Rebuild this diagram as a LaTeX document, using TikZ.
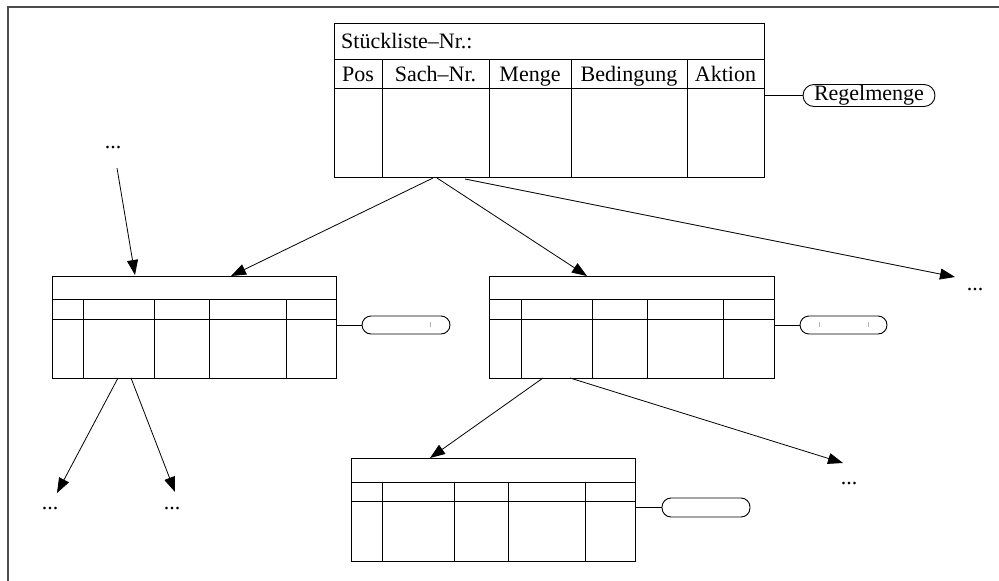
\documentclass[tikz,border=0pt]{standalone}
\usepackage{fontspec}
\setmainfont{Liberation Serif}
\usetikzlibrary{arrows.meta}
\tikzset{
  tbl/.style={draw, line width=0.9pt, inner sep=0pt, anchor=north west},
  grid/.style={line width=0.9pt},
  pill/.style={draw, line width=0.9pt, inner sep=0pt, rounded corners=9pt},
  conn/.style={line width=0.9pt},
  arr/.style={line width=0.8pt, -{Triangle[length=15pt,width=11pt]}},
  lbl/.style={font=\fontsize{22}{26}\selectfont, inner sep=0pt},
  dots/.style={font=\fontsize{22}{26}\selectfont, inner sep=0pt, anchor=base},
  tick/.style={draw=black!30, line width=0.6pt}
}
\begin{document}
\begin{tikzpicture}[x=1pt,y=-1pt]
\useasboundingbox (0,0) rectangle (999,581);
% outer frame (top and left only)
\draw[line width=2pt, black!70] (999,7) -- (8,7) -- (8,581);

% ---------- top table ----------
\node[tbl, minimum width=430pt, minimum height=154pt] (T) at (334,23) {};
\draw[grid] (334,59) -- (764,59);
\draw[grid] (334,88) -- (764,88);
\foreach \x in {382,489,571,687} \draw[grid] (\x,59) -- (\x,177);
\node[lbl, anchor=base west] (Ttitle) at (341,48) {Stückliste–Nr.:};
\node[lbl, anchor=base] (h1) at (358,81) {Pos};
\node[lbl, anchor=base] (h2) at (435.5,81) {Sach–Nr.};
\node[lbl, anchor=base] (h3) at (530,81) {Menge};
\node[lbl, anchor=base] (h4) at (629,81) {Bedingung};
\node[lbl, anchor=base] (h5) at (725.5,81) {Aktion};
\node[pill, minimum width=132pt, minimum height=22pt, rounded corners=11pt, font=\fontsize{22}{26}\selectfont] (PT) at (869,95.5) {Regelmenge};
\draw[conn] (764,95.5) -- (PT.west);

% ---------- left middle table ----------
\node[tbl, minimum width=284pt, minimum height=102pt] (L) at (52,276) {};
\draw[grid] (52,299) -- (336,299);
\draw[grid] (52,319) -- (336,319);
\foreach \x in {83,154,209,286} \draw[grid] (\x,299) -- (\x,378);
\node[pill, minimum width=88pt, minimum height=18pt] (PL) at (406,325) {};
\draw[conn] (336,325) -- (PL.west);
\draw[tick] (430,322) -- (430,327);

% ---------- right middle table ----------
\node[tbl, minimum width=285pt, minimum height=102pt] (R) at (489,276) {};
\draw[grid] (489,299) -- (774,299);
\draw[grid] (489,319) -- (774,319);
\foreach \x in {521,592,647,723} \draw[grid] (\x,299) -- (\x,378);
\node[pill, minimum width=87pt, minimum height=18pt] (PR) at (843.5,325) {};
\draw[conn] (774,325) -- (PR.west);
\draw[tick] (819,322) -- (819,327);
\draw[tick] (868,322) -- (868,327);

% ---------- bottom table ----------
\node[tbl, minimum width=284pt, minimum height=103pt] (B) at (351,458) {};
\draw[grid] (351,482) -- (635,482);
\draw[grid] (351,501) -- (635,501);
\foreach \x in {382,454,508,585} \draw[grid] (\x,482) -- (\x,561);
\node[pill, minimum width=88pt, minimum height=19pt] (PB) at (706,507.5) {};
\draw[conn] (635,507.5) -- (PB.west);

% ---------- dots ----------
\node[dots] (d0) at (113,148) {...};
\node[dots] (d1) at (975,290) {...};
\node[dots] (d2) at (50,509) {...};
\node[dots] (d3) at (172,509) {...};
\node[dots] (d4) at (849,484) {...};

% ---------- arrow anchors ----------
\coordinate (s1) at (433,178);
\coordinate (s2) at (437,178);
\coordinate (s3) at (465,179);
\coordinate (e1) at (231,276);
\coordinate (e2) at (587,276);
\coordinate (e3) at (955,277);
\coordinate (s4) at (117,168);
\coordinate (e4) at (135,275);
\coordinate (s5) at (118,378);
\coordinate (e5) at (57,493);
\coordinate (s6) at (131,378);
\coordinate (e6) at (175,492);
\coordinate (s7) at (543,378);
\coordinate (e7) at (430,458);
\coordinate (s8) at (570,378);
\coordinate (e8) at (843,463);

\draw[arr] (s1) -- (e1);
\draw[arr] (s2) -- (e2);
\draw[arr] (s3) -- (e3);
\draw[arr] (s4) -- (e4);
\draw[arr] (s5) -- (e5);
\draw[arr] (s6) -- (e6);
\draw[arr] (s7) -- (e7);
\draw[arr] (s8) -- (e8);
\end{tikzpicture}
\end{document}
